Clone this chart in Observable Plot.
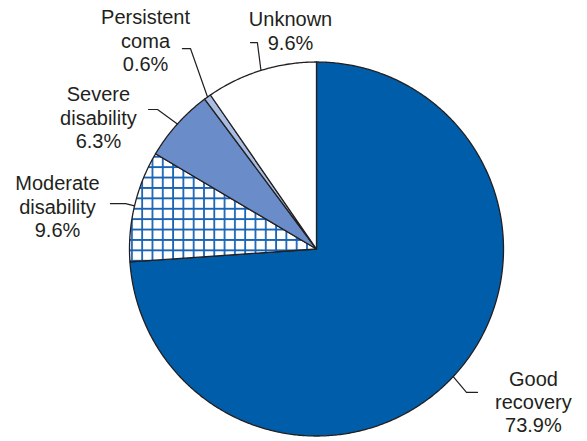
<!DOCTYPE html>
<html><head><meta charset="utf-8">
<script src="https://cdn.jsdelivr.net/npm/d3@7"></script>
<script src="https://cdn.jsdelivr.net/npm/@observablehq/plot@0.6"></script>
<style>body{margin:0;background:#fff}</style>
</head><body><div id="chart"></div>
<script>
// Data
const categories = ["Good recovery", "Moderate disability", "Severe disability", "Persistent coma", "Unknown"];
const labelLines = ["Good\nrecovery", "Moderate\ndisability", "Severe\ndisability", "Persistent\ncoma", "Unknown"];
const values = [73.9, 9.6, 6.3, 0.6, 9.6];

// Styles
const fills = ["#005daa", "url(#grid)", "#6a8cc8", "#a9bde2", "#ffffff"];

// Label layout (in pie-radius units, centre = 0,0)
const leaderElbow = [[0.802, -0.767], [-1.021, 0.243], [-0.850, 0.746], [-0.674, 1.072], [-0.316, 1.104]];
const leaderEnd   = [[0.861, -0.767], [-1.102, 0.243], [-0.898, 0.746], [-0.717, 1.072], [-0.353, 1.104]];
const labelPos    = [[1.160, -0.816], [-1.385, 0.229], [-1.166, 0.705], [-0.914, 1.117], [-0.139, 1.168]];

const total = d3.sum(values);
let acc = 0;
const slices = values.map((v, i) => {
  const a0 = acc / total * 2 * Math.PI; acc += v;
  const a1 = acc / total * 2 * Math.PI;
  return {i, a0, a1, mid: (a0 + a1) / 2};
});
const polys = slices.map(s => {
  const pts = [{x: 0, y: 0}];
  const n = Math.max(2, Math.ceil((s.a1 - s.a0) / (Math.PI / 360)));
  for (let k = 0; k <= n; k++) {
    const a = s.a0 + (s.a1 - s.a0) * k / n;
    pts.push({x: Math.sin(a), y: Math.cos(a)});
  }
  return pts;
});
const leaders = slices.map((s, i) => [
  {x: Math.sin(s.mid), y: Math.cos(s.mid)},
  {x: leaderElbow[i][0], y: leaderElbow[i][1]},
  {x: leaderEnd[i][0], y: leaderEnd[i][1]}
]);
const labels = slices.map((s, i) => ({
  x: labelPos[i][0], y: labelPos[i][1],
  t: `${labelLines[i]}\n${values[i].toFixed(1)}%`
}));

const svg = Plot.plot({
  width: 587, height: 441, margin: 0,
  x: {domain: [-1.6898, 1.4492], axis: null},
  y: {domain: [-1.0294, 1.3289], axis: null},
  style: {fontFamily: "'Liberation Sans', Arial, sans-serif", background: "white", overflow: "visible"},
  marks: [
    ...polys.map((p, i) => Plot.line(p, {x: "x", y: "y", fill: fills[i], stroke: "#231f20", strokeWidth: 1.3, curve: "linear-closed", strokeLinejoin: "round"})),
    ...leaders.map(l => Plot.line(l, {x: "x", y: "y", stroke: "#231f20", strokeWidth: 1.2})),
    Plot.text(labels, {x: "x", y: "y", text: "t", fontSize: 20, lineHeight: 1.17, lineAnchor: "middle", textAnchor: "middle", fill: "#231f20"})
  ]
});

// grid hatch pattern
const ns = "http://www.w3.org/2000/svg";
const defs = document.createElementNS(ns, "defs");
const pat = document.createElementNS(ns, "pattern");
pat.setAttribute("id", "grid");
pat.setAttribute("patternUnits", "userSpaceOnUse");
pat.setAttribute("x", "6.8"); pat.setAttribute("y", "9.7");
pat.setAttribute("width", "10.3"); pat.setAttribute("height", "10.4");
const bg = document.createElementNS(ns, "rect");
bg.setAttribute("width", "10.3"); bg.setAttribute("height", "10.4"); bg.setAttribute("fill", "#ffffff");
const gp = document.createElementNS(ns, "path");
gp.setAttribute("d", "M0 1H10.3M1 0V10.4");
gp.setAttribute("stroke", "#1a64b4"); gp.setAttribute("stroke-width", "1.8"); gp.setAttribute("fill", "none");
pat.appendChild(bg); pat.appendChild(gp); defs.appendChild(pat);
svg.insertBefore(defs, svg.firstChild);

document.getElementById("chart").appendChild(svg);
</script>
</body></html>
